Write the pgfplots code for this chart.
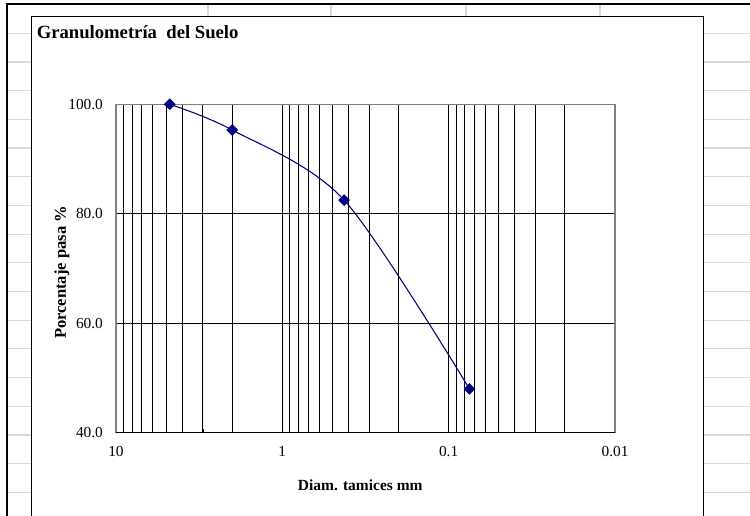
\documentclass[border=0pt]{standalone}
\usepackage{fontspec}
\setmainfont{Liberation Serif}
\usepackage{pgfplots}
\pgfplotsset{compat=1.18}
\definecolor{navy}{RGB}{0,0,128}
\definecolor{cellgrid}{RGB}{217,217,217}
\definecolor{axgray}{RGB}{128,128,128}
\begin{document}
\begin{tikzpicture}[x=0.75pt,y=-0.75pt]
\useasboundingbox (0,0) rectangle (750,516);
\clip (0,0) rectangle (750,516);
\fill[white] (0,0) rectangle (750,516);
\foreach \k in {0,...,16} {
  \pgfmathsetmacro\yy{33.3+28.69*\k}
  \draw[cellgrid, line width=0.9pt] (7,\yy) -- (31.7,\yy);
  \draw[cellgrid, line width=0.9pt] (703.7,\yy) -- (750,\yy);
}
\foreach \xx in {208,331,466,600} \draw[cellgrid,line width=0.9pt] (\xx,5) -- (\xx,16.7);
\draw[black, line width=1.8pt] (6.7,4.3) -- (750,4.3);
\draw[black, line width=1.6pt] (6.7,3.4) -- (6.7,516);
\draw[black, line width=0.8pt, fill=white] (31.7,16.7) rectangle (703.7,530);
\node[anchor=base west, inner sep=0, font=\fontsize{14}{16}\selectfont\bfseries] at (36.5,38.5) {Granulometría\ \ del Suelo};
\begin{axis}[
  at={(87pt,-78.225pt)}, anchor=north west,
  scale only axis, width=374.25pt, height=246.3pt,
  xmode=log, x dir=reverse, xmin=0.01, xmax=10,
  ymin=40, ymax=100,
  xtick={0.01,0.1,1,10}, xticklabels={0.01,0.1,1,10},
  minor xtick={0.02,0.03,0.04,0.05,0.06,0.07,0.08,0.09,0.2,0.3,0.4,0.5,0.6,0.7,0.8,0.9,2,3,4,5,6,7,8,9},
  ytick={40,60,80,100}, yticklabels={40.0,60.0,80.0,100.0},
  xmajorgrids, xminorgrids, ymajorgrids,
  grid style={black, line width=0.75pt},
  minor grid style={black, line width=0.75pt},
  axis line style={axgray, line width=0.8pt},
  tick style={black, line width=0.8pt},
  major tick length=4pt, minor tick length=2.5pt,
  xtick pos=bottom,
  ticklabel style={font=\fontsize{11.5}{13}\selectfont},
  xticklabel style={yshift=-6.5pt},
  yticklabel style={xshift=-6.3pt},
  xlabel={Diam. tamices mm},
  ylabel={Porcentaje pasa \%},
  xlabel style={font=\fontsize{11.6}{13}\selectfont\bfseries, at={(axis description cs:0.4895,-0.1595)}, anchor=center},
  ylabel style={font=\fontsize{12.4}{14}\selectfont\bfseries, at={(axis description cs:-0.1082,0.488)}, anchor=center},
]
\addplot[navy, line width=0.8pt, smooth, mark=square*, mark size=2.7pt,
  mark options={rotate=45, fill=navy, draw=navy, solid}]
  coordinates {(4.75,100) (2.0,95.3) (0.425,82.5) (0.075,48.0)};
\draw[black, line width=0.8pt] (rel axis cs:0,0) -- (rel axis cs:1,0);
\end{axis}
\end{tikzpicture}
\end{document}
